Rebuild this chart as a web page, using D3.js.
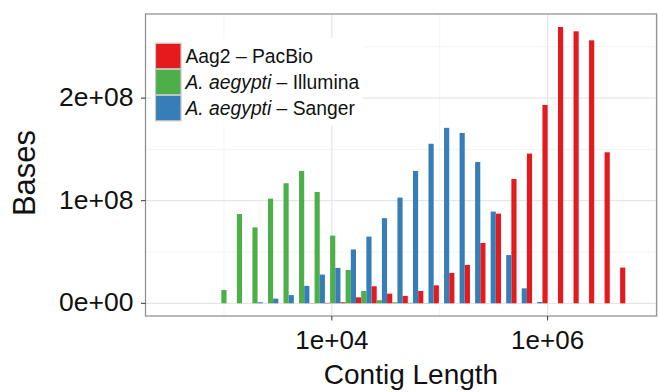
<!DOCTYPE html>
<html>
<head>
<meta charset="utf-8">
<script src="https://cdn.jsdelivr.net/npm/d3@7"></script>
<style>
  body { margin: 0; background: #fff; }
  svg text { font-family: "Liberation Sans", Arial, Helvetica, sans-serif; }
</style>
</head>
<body>
<div class="chart"></div>
<script>
// bin centres, log10(contig length), 30 bins
var binCenters = [2.568, 2.712, 2.856, 3.000, 3.144, 3.288, 3.432, 3.576, 3.720, 3.864,
                  4.008, 4.152, 4.296, 4.440, 4.584, 4.728, 4.872, 5.016, 5.160, 5.304,
                  5.448, 5.592, 5.736, 5.880, 6.024, 6.168, 6.312, 6.456, 6.600, 6.744];
var binWidth = 0.144;

var seriesNames = ['Aag2 \u2013 PacBio', 'A. aegypti \u2013 Illumina', 'A. aegypti \u2013 Sanger'];

// bases per bin, in units of 1e8
var pacbio   = [0, 0, 0, 0, 0, 0, 0, 0, 0, 0.002,
                0.004, 0.01, 0.058, 0.166, 0.094, 0.072, 0.12, 0.175, 0.296, 0.374,
                0.588, 0.874, 1.212, 1.459, 1.933, 2.693, 2.651, 2.563, 1.472, 0.348];
var illumina = [0, 0, 0, 0.13, 0.87, 0.74, 1.02, 1.17, 1.29, 1.085,
                0.66, 0.325, 0.12, 0.03, 0.01, 0.005, 0.002, 0, 0, 0,
                0, 0, 0, 0, 0, 0, 0, 0, 0, 0];
var sanger   = [0, 0, 0, 0, 0, 0.01, 0.045, 0.08, 0.17, 0.28,
                0.345, 0.525, 0.65, 0.83, 1.03, 1.29, 1.555, 1.71, 1.66, 1.377,
                0.894, 0.47, 0.146, 0.013, 0, 0, 0, 0, 0, 0];

var yTicks = [0, 1e8, 2e8];
var yTickLabels = ['0e+00', '1e+08', '2e+08'];
var xTicks = [1e4, 1e6];
var xTickLabels = ['1e+04', '1e+06'];

var colors = ['#E41A1C', '#4DAF4A', '#377EB8'];

var w = 658, h = 392;
var pL = 145.5, pR = 656.7, pT = 14, pB = 316;

var svg = d3.select('.chart').append('svg')
    .attr('width', w)
    .attr('height', h);

var x = d3.scaleLog()
    .domain([Math.pow(10, 2.273), Math.pow(10, 7.011)])
    .range([pL, pR]);

var y = d3.scaleLinear()
    .domain([-0.1238e8, 2.8197e8])
    .range([pB, pT]);

// grid
var grid = svg.append('g');
[5e7, 1.5e8, 2.5e8].forEach(function(v){
    grid.append('line').attr('x1', pL).attr('x2', pR).attr('y1', y(v)).attr('y2', y(v))
        .attr('stroke', '#f4f4f4').attr('stroke-width', 1);
});
[1e3, 1e5, 1e7].forEach(function(v){
    grid.append('line').attr('y1', pT).attr('y2', pB).attr('x1', x(v)).attr('x2', x(v))
        .attr('stroke', '#f4f4f4').attr('stroke-width', 1);
});
yTicks.forEach(function(v){
    grid.append('line').attr('x1', pL).attr('x2', pR).attr('y1', y(v)).attr('y2', y(v))
        .attr('stroke', '#e6e6e6').attr('stroke-width', 1.2);
});
xTicks.forEach(function(v){
    grid.append('line').attr('y1', pT).attr('y2', pB).attr('x1', x(v)).attr('x2', x(v))
        .attr('stroke', '#e6e6e6').attr('stroke-width', 1.2);
});

// bars
var series = [pacbio, illumina, sanger];
series.forEach(function(vals, j){
    svg.append('g').selectAll('rect')
        .data(vals)
        .enter()
        .append('rect')
        .attr('fill', colors[j])
        .attr('x', function(d, i){
            var x0 = x(Math.pow(10, binCenters[i] - binWidth / 2));
            var x1 = x(Math.pow(10, binCenters[i] + binWidth / 2));
            return x0 + j * (x1 - x0) / 3;
        })
        .attr('width', function(d, i){
            var x0 = x(Math.pow(10, binCenters[i] - binWidth / 2));
            var x1 = x(Math.pow(10, binCenters[i] + binWidth / 2));
            return (x1 - x0) / 3;
        })
        .attr('y', function(d){ return y(d * 1e8); })
        .attr('height', function(d){ return y(0) - y(d * 1e8); });
});

// panel border
svg.append('rect')
    .attr('x', pL).attr('y', pT)
    .attr('width', pR - pL).attr('height', pB - pT)
    .attr('fill', 'none').attr('stroke', '#8a8a8a').attr('stroke-width', 1.2);

// axes
var yAxis = svg.append('g');
yTicks.forEach(function(v, i){
    yAxis.append('line').attr('x1', pL - 4.5).attr('x2', pL).attr('y1', y(v)).attr('y2', y(v))
        .attr('stroke', '#333');
    yAxis.append('text').attr('x', pL - 12).attr('y', y(v) + 8)
        .attr('text-anchor', 'end').attr('font-size', 26.5).attr('fill', '#111')
        .text(yTickLabels[i]);
});
var xAxis = svg.append('g');
xTicks.forEach(function(v, i){
    xAxis.append('line').attr('x1', x(v)).attr('x2', x(v)).attr('y1', pB).attr('y2', pB + 4.5)
        .attr('stroke', '#333');
    xAxis.append('text').attr('x', x(v)).attr('y', 349)
        .attr('text-anchor', 'middle').attr('font-size', 26).attr('fill', '#111')
        .text(xTickLabels[i]);
});

svg.append('text')
    .attr('x', 411).attr('y', 384)
    .attr('text-anchor', 'middle').attr('font-size', 28).attr('fill', '#111')
    .text('Contig Length');

svg.append('text')
    .attr('transform', 'translate(35,173) rotate(-90)')
    .attr('text-anchor', 'middle').attr('font-size', 31).attr('fill', '#111')
    .text('Bases');

// legend
var legend = svg.append('g');
legend.append('rect').attr('x', 151).attr('y', 38).attr('width', 212).attr('height', 87)
    .attr('fill', '#fff');
var keyY = [43.3, 69.3, 95.3];
seriesNames.forEach(function(name, i){
    legend.append('rect')
        .attr('x', 155.5).attr('y', keyY[i]).attr('width', 25.5).attr('height', 25.5)
        .attr('fill', colors[i]).attr('stroke', '#c8c8c8').attr('stroke-width', 1.2);
    var t = legend.append('text')
        .attr('x', 185.5).attr('y', keyY[i] + 19.2)
        .attr('font-size', 19.3).attr('fill', '#111');
    if (i === 0) {
        t.text(name);
    } else {
        var parts = name.split(' \u2013 ');
        t.append('tspan').attr('font-style', 'italic').text(parts[0]);
        t.append('tspan').text(' \u2013 ' + parts[1]);
    }
});
</script>
</body>
</html>
